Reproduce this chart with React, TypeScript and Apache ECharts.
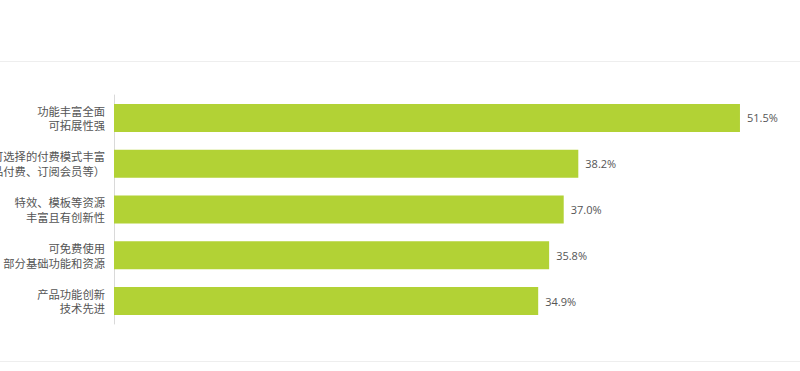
import React, { useEffect, useRef } from "react";
import * as echarts from "echarts";

const categories = [
  "功能丰富全面\n可拓展性强",
  "可选择的付费模式丰富\n（单品付费、订阅会员等）",
  "特效、模板等资源\n丰富且有创新性",
  "可免费使用\n部分基础功能和资源",
  "产品功能创新\n技术先进",
];
const values = [51.5, 38.2, 37.0, 35.8, 34.9];

export default function App() {
  const ref = useRef<HTMLDivElement>(null);
  useEffect(() => {
    if (!ref.current) return;
    const chart = echarts.init(ref.current, undefined, { renderer: "svg" });
    chart.setOption({
      animation: false,
      backgroundColor: "#ffffff",
      grid: {
        left: 114,
        top: 95,
        height: 229,
        right: 17.5,
        containLabel: false,
        outerBoundsMode: "none",
      },
      xAxis: {
        type: "value",
        min: 0,
        max: 55,
        show: false,
      },
      yAxis: {
        type: "category",
        data: categories,
        inverse: true,
        axisLine: { show: true, lineStyle: { color: "#d9d9d9", width: 1 } },
        axisTick: { show: false },
        axisLabel: {
          color: "#555555",
          fontSize: 11.3,
          lineHeight: 14.5,
          margin: 9,
          align: "right",
          fontFamily: "Noto Sans CJK SC",
        },
      },
      graphic: [
        { type: "line", shape: { x1: 0, y1: 61.5, x2: 800, y2: 61.5 }, style: { stroke: "#eeeeee", lineWidth: 1 } },
        { type: "line", shape: { x1: 0, y1: 361.5, x2: 800, y2: 361.5 }, style: { stroke: "#eeeeee", lineWidth: 1 } },
      ],
      series: [
        {
          type: "bar",
          data: values,
          barWidth: 28,
          itemStyle: { color: "#b2d235" },
          label: {
            show: true,
            position: "right",
            distance: 7,
            color: "#555555",
            fontSize: 11,
            fontFamily: "Open Sans",
            formatter: (p: any) => p.value.toFixed(1) + "%",
          },
        },
      ],
    });
    return () => chart.dispose();
  }, []);
  return <div ref={ref} style={{ width: 800, height: 371, position: "absolute", left: 0, top: 0 }} />;
}
